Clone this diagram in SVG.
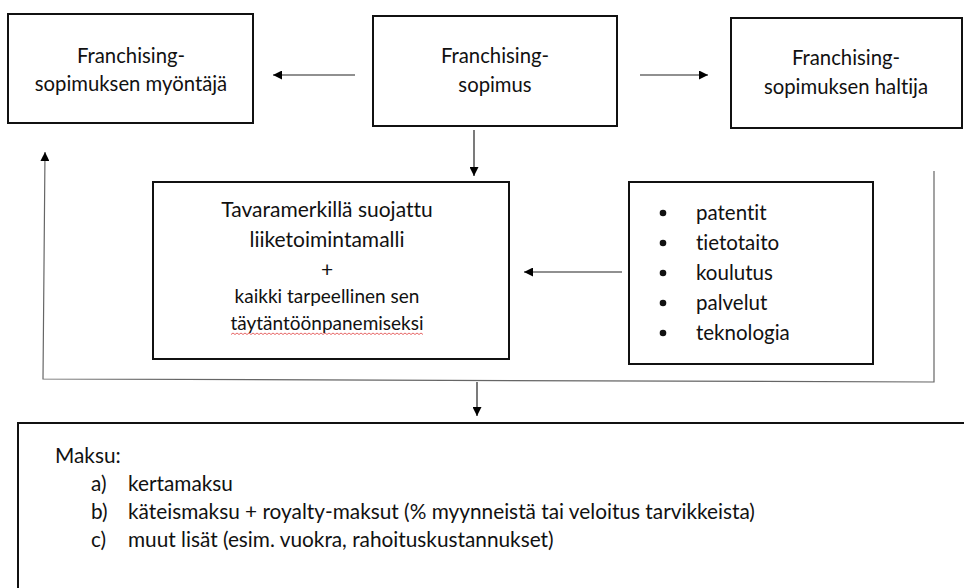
<svg xmlns="http://www.w3.org/2000/svg" width="964" height="588" viewBox="0 0 964 588">
<style>
.box{fill:#fff;stroke:#111;stroke-width:2}
.t{font-family:Lato,"Open Sans",sans-serif;fill:#111;font-variant-ligatures:none;font-feature-settings:"liga" 0,"clig" 0}
.c{text-anchor:middle;font-size:20.3px}
.h{font-size:21px}
.m{font-size:19px}
.l{font-size:20.5px}
.b{font-size:20.8px}
.con{fill:none;stroke:#222;stroke-width:1.2}
.loop{fill:none;stroke:#666;stroke-width:1.2}
</style>
<defs>
<marker id="ah" viewBox="0 0 10 10" refX="10" refY="5" markerWidth="9" markerHeight="9" markerUnits="userSpaceOnUse" orient="auto">
<path d="M0,0 L10,5 L0,10 Z" fill="#000"/>
</marker>
</defs>
<rect width="964" height="588" fill="#fff"/>
<g id="connectors">
<line class="con" x1="355" y1="75" x2="273" y2="75" marker-end="url(#ah)"/>
<line class="con" x1="640" y1="75" x2="708" y2="75" marker-end="url(#ah)"/>
<line class="con" x1="474" y1="130" x2="474" y2="176" marker-end="url(#ah)"/>
<line class="con" x1="622" y1="272" x2="524" y2="272" marker-end="url(#ah)"/>
<polyline class="loop" points="934,171 934,382 43,379 45,152" marker-end="url(#ah)"/>
<line class="con" x1="477" y1="382" x2="477" y2="416" marker-end="url(#ah)"/>
</g>
<g id="node-myontaja">
<rect class="box" x="8" y="14" width="245" height="109"/>
<text class="t c" x="131" y="63">Franchising-</text>
<text class="t c" x="131" y="91">sopimuksen myöntäjä</text>
</g>
<g id="node-sopimus">
<rect class="box" x="373" y="16" width="244" height="110"/>
<text class="t c" x="495" y="63">Franchising-</text>
<text class="t c" x="495" y="92">sopimus</text>
</g>
<g id="node-haltija">
<rect class="box" x="731" y="18" width="231" height="110"/>
<text class="t c" x="846" y="65">Franchising-</text>
<text class="t c" x="846" y="94">sopimuksen haltija</text>
</g>
<g id="node-malli">
<rect class="box" x="153" y="182" width="356" height="177"/>
<text class="t c h" x="327" y="217">Tavaramerkillä suojattu</text>
<text class="t c h" x="327" y="247">liiketoimintamalli</text>
<text class="t c h" x="327" y="277">+</text>
<text class="t c m" x="327" y="303">kaikki tarpeellinen sen</text>
<text class="t c m" x="327" y="330">täytäntöönpanemiseksi</text>
<path d="M231,334.5 l2,-1.5 l2,1.5 l2,-1.5 l2,1.5 l2,-1.5 l2,1.5 l2,-1.5 l2,1.5 l2,-1.5 l2,1.5 l2,-1.5 l2,1.5 l2,-1.5 l2,1.5 l2,-1.5 l2,1.5 l2,-1.5 l2,1.5 l2,-1.5 l2,1.5 l2,-1.5 l2,1.5 l2,-1.5 l2,1.5 l2,-1.5 l2,1.5 l2,-1.5 l2,1.5 l2,-1.5 l2,1.5 l2,-1.5 l2,1.5 l2,-1.5 l2,1.5 l2,-1.5 l2,1.5 l2,-1.5 l2,1.5 l2,-1.5 l2,1.5 l2,-1.5 l2,1.5 l2,-1.5 l2,1.5 l2,-1.5 l2,1.5 l2,-1.5 l2,1.5 l2,-1.5 l2,1.5 l2,-1.5 l2,1.5 l2,-1.5 l2,1.5 l2,-1.5 l2,1.5 l2,-1.5 l2,1.5 l2,-1.5 l2,1.5 l2,-1.5 l2,1.5 l2,-1.5 l2,1.5 l2,-1.5 l2,1.5 l2,-1.5 l2,1.5 l2,-1.5 l2,1.5 l2,-1.5 l2,1.5 l2,-1.5 l2,1.5 l2,-1.5 l2,1.5 l2,-1.5 l2,1.5 l2,-1.5 l2,1.5 l2,-1.5 l2,1.5 l2,-1.5 l2,1.5 l2,-1.5 l2,1.5 l2,-1.5 l2,1.5 l2,-1.5 l2,1.5 l2,-1.5 l2,1.5 l2,-1.5 l2,1.5 l2,-1.5 l2,1.5" fill="none" stroke="#e04040" stroke-width="0.8"/>
</g>
<g id="node-lista">
<rect class="box" x="629" y="182" width="244" height="182"/>
<g class="t l">
<circle cx="663" cy="213" r="3.3" fill="#111"/><text x="696" y="220">patentit</text>
<circle cx="663" cy="243" r="3.3" fill="#111"/><text x="696" y="250">tietotaito</text>
<circle cx="663" cy="273" r="3.3" fill="#111"/><text x="696" y="280">koulutus</text>
<circle cx="663" cy="303" r="3.3" fill="#111"/><text x="696" y="310">palvelut</text>
<circle cx="663" cy="333" r="3.3" fill="#111"/><text x="696" y="340">teknologia</text>
</g>
</g>
<g id="node-maksu">
<rect class="box" x="18" y="423" width="960" height="200"/>
<g class="t b">
<text x="55" y="463">Maksu:</text>
<text x="91" y="491">a)</text><text x="128" y="491">kertamaksu</text>
<text x="91" y="519">b)</text><text x="128" y="519">käteismaksu + royalty-maksut (% myynneistä tai veloitus tarvikkeista)</text>
<text x="91" y="547">c)</text><text x="128" y="547">muut lisät (esim. vuokra, rahoituskustannukset)</text>
</g>
</g>
</svg>
